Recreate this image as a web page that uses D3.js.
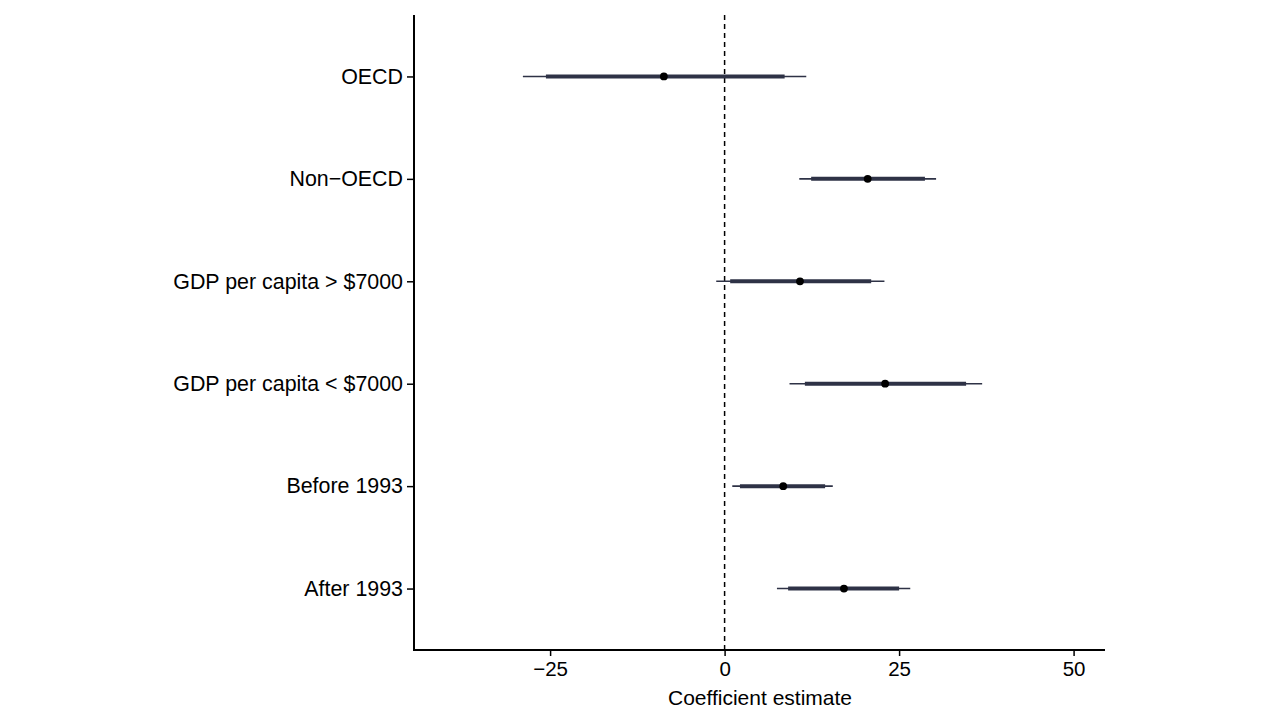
<!DOCTYPE html>
<html>
<head>
<meta charset="utf-8">
<script src="https://cdn.jsdelivr.net/npm/d3@7"></script>
<style>
body { margin: 0; background: #fff; }
svg { display: block; font-family: "Liberation Sans", Arial, Helvetica, sans-serif; }
</style>
</head>
<body>
<svg id="chart" width="1267" height="727"></svg>
<script>
const categories = ["OECD", "Non\u2212OECD", "GDP per capita > $7000", "GDP per capita < $7000", "Before 1993", "After 1993"];
const estimate = [-8.7, 20.5, 10.8, 23.0, 8.4, 17.1];
const outerLow = [-28.9, 10.7, -1.2, 9.3, 1.1, 7.5];
const innerLow = [-25.6, 12.4, 0.8, 11.5, 2.2, 9.1];
const innerHigh = [8.6, 28.7, 21.0, 34.6, 14.4, 25.0];
const outerHigh = [11.7, 30.3, 22.9, 36.9, 15.5, 26.6];
const xTicks = [-25, 0, 25, 50];
const xTickLabels = ["\u221225", "0", "25", "50"];
const xTitle = "Coefficient estimate";

(function () {
const rows = categories.map((c, i) => ({
  c, est: estimate[i], lo: outerLow[i], il: innerLow[i], ih: innerHigh[i], hi: outerHigh[i]
}));

const svg = d3.select("#chart");
const mLeft = 414, mRight = 1105, mTop = 15, mBottom = 650;
const x = d3.scaleLinear().domain([-44.5, 54.5]).range([mLeft, mRight]);
const y = d3.scalePoint().domain(categories).range([mTop, mBottom]).padding(0.6);

const lineColor = "#2e3246";

// zero reference line
svg.append("line")
  .attr("x1", x(0)).attr("x2", x(0))
  .attr("y1", mTop).attr("y2", mBottom)
  .attr("stroke", "#000").attr("stroke-width", 1.5)
  .attr("stroke-dasharray", "5,4");

const g = svg.append("g");
g.selectAll("line.outer").data(rows).join("line")
  .attr("class", "outer")
  .attr("x1", d => x(d.lo)).attr("x2", d => x(d.hi))
  .attr("y1", d => y(d.c)).attr("y2", d => y(d.c))
  .attr("stroke", lineColor).attr("stroke-width", 1.6);
g.selectAll("line.inner").data(rows).join("line")
  .attr("class", "inner")
  .attr("x1", d => x(d.il)).attr("x2", d => x(d.ih))
  .attr("y1", d => y(d.c)).attr("y2", d => y(d.c))
  .attr("stroke", lineColor).attr("stroke-width", 4);
g.selectAll("circle").data(rows).join("circle")
  .attr("cx", d => x(d.est)).attr("cy", d => y(d.c))
  .attr("r", 3.9).attr("fill", "#000");

// axes
const xAxis = svg.append("g").attr("transform", `translate(0,${mBottom})`)
  .call(d3.axisBottom(x).tickValues(xTicks).tickFormat((d, i) => xTickLabels[i]).tickSize(6).tickSizeOuter(0));
xAxis.select(".domain").remove();
xAxis.selectAll(".tick line").attr("stroke", "#000").attr("stroke-width", 1.5);
xAxis.selectAll(".tick text").attr("font-size", 20.5).attr("fill", "#000")
  .attr("y", 25.5).attr("dy", null)
  .attr("font-family", "Liberation Sans, Arial, sans-serif");

const yAxis = svg.append("g").attr("transform", `translate(${mLeft},0)`)
  .call(d3.axisLeft(y).tickSize(7).tickPadding(4).tickSizeOuter(0));
yAxis.select(".domain").remove();
yAxis.selectAll(".tick line").attr("stroke", "#000").attr("stroke-width", 1.5);
yAxis.selectAll(".tick text").attr("font-size", 21.4).attr("fill", "#000")
  .attr("font-family", "Liberation Sans, Arial, sans-serif");

// axis lines
svg.append("path")
  .attr("d", `M${mLeft},${mTop}V${mBottom}H${mRight}`)
  .attr("fill", "none").attr("stroke", "#000").attr("stroke-width", 2);

svg.append("text")
  .attr("x", 760).attr("y", 704.5)
  .attr("text-anchor", "middle").attr("font-size", 21).attr("fill", "#000")
  .text(xTitle);
})();
</script>
</body>
</html>
